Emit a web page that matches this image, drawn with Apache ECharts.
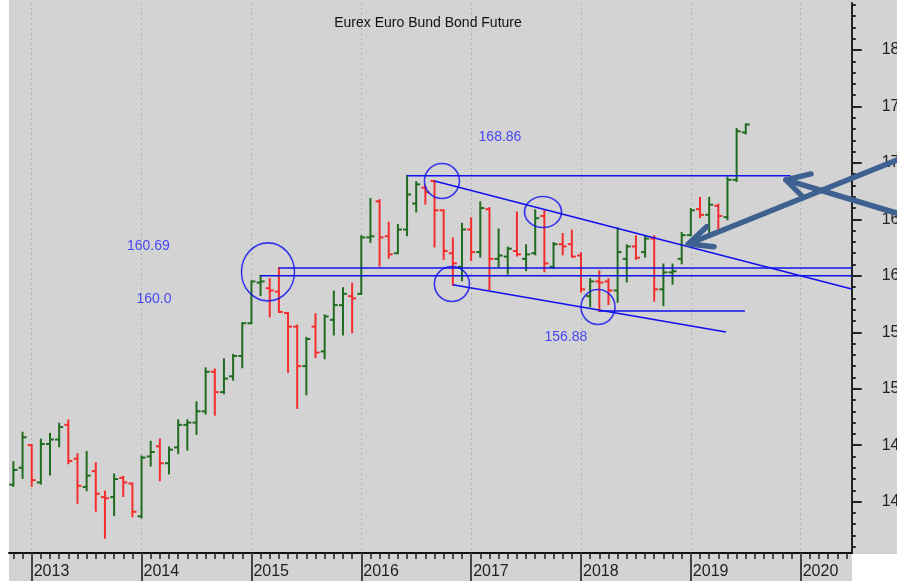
<!DOCTYPE html>
<html>
<head>
<meta charset="utf-8">
<script src="https://cdn.jsdelivr.net/npm/echarts@6/dist/echarts.min.js"></script>
<style>
  html, body { margin: 0; padding: 0; background: #fff; }
  #chart { width: 897px; height: 581px; }
</style>
</head>
<body>
<div id="chart"></div>
<script>
  // monthly bars, Nov 2012 .. Jul 2019
  var months = [
    '2012-11', '2012-12',
    '2013-01', '2013-02', '2013-03', '2013-04', '2013-05', '2013-06', '2013-07', '2013-08', '2013-09', '2013-10', '2013-11', '2013-12',
    '2014-01', '2014-02', '2014-03', '2014-04', '2014-05', '2014-06', '2014-07', '2014-08', '2014-09', '2014-10', '2014-11', '2014-12',
    '2015-01', '2015-02', '2015-03', '2015-04', '2015-05', '2015-06', '2015-07', '2015-08', '2015-09', '2015-10', '2015-11', '2015-12',
    '2016-01', '2016-02', '2016-03', '2016-04', '2016-05', '2016-06', '2016-07', '2016-08', '2016-09', '2016-10', '2016-11', '2016-12',
    '2017-01', '2017-02', '2017-03', '2017-04', '2017-05', '2017-06', '2017-07', '2017-08', '2017-09', '2017-10', '2017-11', '2017-12',
    '2018-01', '2018-02', '2018-03', '2018-04', '2018-05', '2018-06', '2018-07', '2018-08', '2018-09', '2018-10', '2018-11', '2018-12',
    '2019-01', '2019-02', '2019-03', '2019-04', '2019-05', '2019-06', '2019-07'
  ];
  var opens = [
    141.5, 143.0,
    145.0, 141.7, 145.1, 145.5, 146.8, 143.8, 141.3, 142.7, 140.4, 140.4, 142.1, 141.6,
    138.7, 144.0, 144.9, 143.4, 144.8, 146.8, 147.0, 148.0, 151.5, 149.7, 151.1, 152.9,
    155.8, 159.4, 158.9, 158.6, 156.7, 155.5, 152.0, 155.5, 153.3, 156.1, 157.4, 158.2,
    158.4, 163.4, 166.6, 163.5, 162.0, 164.1, 166.4, 167.8, 168.4, 165.8, 162.0, 160.8,
    164.1, 162.1, 165.9, 161.5, 161.7, 162.2, 161.5, 162.0, 165.3, 160.8, 162.8, 162.8,
    161.8, 158.2, 159.5, 159.5, 158.7, 161.5, 162.6, 162.1, 163.3, 158.8, 160.3, 161.5,
    163.6, 165.9, 165.4, 166.2, 165.2, 168.5, 172.7
  ];
  var highs = [
    143.5, 146.1,
    145.0, 145.5, 146.0, 146.9, 147.2, 144.2, 144.4, 143.4, 140.9, 142.4, 142.2, 141.6,
    144.0, 145.3, 145.5, 144.8, 147.2, 147.2, 148.8, 151.8, 151.7, 152.6, 153.0, 155.8,
    159.5, 160.0, 159.7, 160.69, 156.7, 155.6, 154.5, 156.6, 156.5, 158.6, 158.9, 159.3,
    163.5, 166.8, 166.7, 164.7, 164.5, 168.86, 168.3, 167.9, 168.4, 165.8, 163.3, 164.6,
    165.1, 166.5, 166.0, 164.1, 162.5, 165.6, 162.7, 165.8, 165.8, 162.9, 163.7, 164.0,
    162.0, 159.7, 160.4, 159.7, 164.2, 162.7, 163.5, 163.5, 163.5, 161.0, 161.0, 163.8,
    165.9, 166.9, 166.9, 166.3, 168.7, 173.0, 173.4
  ];
  var lows = [
    141.4, 142.1,
    141.4, 141.6, 142.4, 144.9, 143.4, 139.9, 141.0, 139.2, 136.8, 138.8, 140.5, 138.7,
    138.6, 143.2, 141.9, 142.5, 144.3, 144.6, 146.0, 147.8, 147.7, 149.6, 150.8, 151.9,
    155.8, 158.3, 156.4, 156.8, 151.5, 148.3, 149.5, 152.8, 152.7, 154.8, 154.8, 155.0,
    158.4, 163.0, 160.9, 161.6, 162.0, 163.6, 165.7, 166.4, 162.6, 161.5, 159.2, 159.6,
    161.4, 161.7, 158.8, 160.8, 160.2, 161.8, 160.5, 161.9, 160.4, 160.7, 161.9, 161.7,
    158.6, 157.3, 156.88, 157.5, 157.7, 159.5, 161.5, 161.7, 157.8, 157.4, 159.3, 161.1,
    163.6, 165.2, 163.7, 164.2, 165.0, 168.4, 172.6
  ];
  var closes = [
    142.8, 145.7,
    141.9, 145.1, 145.5, 146.6, 143.6, 141.4, 142.3, 140.7, 140.3, 142.0, 141.7, 139.1,
    143.9, 144.4, 143.4, 144.6, 146.8, 147.0, 148.0, 151.5, 149.7, 150.9, 152.9, 155.8,
    159.5, 159.5, 158.7, 156.8, 155.5, 152.0, 154.4, 153.2, 156.4, 157.4, 158.4, 158.0,
    163.4, 163.5, 163.4, 161.9, 164.1, 167.2, 168.1, 167.4, 165.8, 162.2, 161.1, 164.1,
    162.1, 166.0, 161.5, 161.8, 162.4, 161.9, 161.9, 165.1, 161.1, 162.8, 162.6, 161.7,
    158.8, 159.5, 159.4, 158.7, 162.1, 162.6, 161.6, 163.3, 158.8, 160.3, 160.4, 163.6,
    165.8, 165.4, 166.3, 165.3, 168.5, 172.8, 173.4
  ];

  var yearLabels = ['2013', '2014', '2015', '2016', '2017', '2018', '2019', '2020'];
  var priceTicks = [140, 145, 150, 155, 160, 165, 170, 175, 180];

  // drawn levels (value, first month, last month; months counted from Jan 2013)
  var levelValues = [160.0, 160.69, 168.86, 156.88];
  var levelStart = [25, 27, 41, 62];
  var levelEnd = [89.57, 89.57, 82.9, 77.9];
  var trendUpper = [[44, 168.4], [89.57, 158.83]];
  var trendLower = [[46, 159.2], [75.84, 155.02]];
  var circleAt = [[25.81, 160.34], [44.81, 168.4], [45.9, 159.27], [55.85, 165.65], [61.86, 157.24]];
  var noteText = ['160.69', '160.0', '168.86', '156.88'];
  var noteAt = [[12.74, 162.61], [13.36, 157.95], [51.15, 172.3], [58.34, 154.54]];
  var arrowShafts = [[[71.72, 162.82], [94.52, 170.26]], [[82.39, 168.49], [94.52, 165.54]]];
  var arrowHeads = [[[73.73, 164.35], [71.72, 162.82], [74.53, 162.58]], [[85.12, 169.02], [82.39, 168.49], [84.28, 166.95]]];

  var GREEN = '#1f6b1f';
  var RED = '#f42c2c';
  var BLUE = '#1010f0';
  var ARROW = '#3e6191';
  var FONT = "'Liberation Sans', Arial, sans-serif";

  function monthIndex(s) {
    var p = s.split('-');
    return (parseInt(p[0], 10) - 2013) * 12 + parseInt(p[1], 10) - 1;
  }

  var xMin = -2.48, xMax = 89.57;
  var yMin = 135.45, yMax = 184.16;

  var monthTicks = [];
  for (var m = Math.ceil(xMin); m <= xMax; m++) monthTicks.push(m);
  var yearTicks = yearLabels.map(function (y) { return (parseInt(y, 10) - 2013) * 12; });
  var unitTicks = [];
  for (var v = Math.ceil(yMin); v <= yMax; v++) unitTicks.push(v);

  var bars = months.map(function (mo, i) {
    return [monthIndex(mo), opens[i], highs[i], lows[i], closes[i]];
  });

  var series = [];
  series.push({
    type: 'custom',
    name: 'bund',
    data: bars,
    encode: { x: 0, y: [1, 2, 3, 4] },
    renderItem: function (params, api) {
      var x = api.value(0);
      var o = api.value(1), h = api.value(2), l = api.value(3), c = api.value(4);
      var pH = api.coord([x, h]), pL = api.coord([x, l]);
      var pO = api.coord([x, o]), pC = api.coord([x, c]);
      var col = c >= o ? GREEN : RED;
      var st = { stroke: col, lineWidth: 2 };
      return {
        type: 'group',
        children: [
          { type: 'line', shape: { x1: pH[0], y1: pH[1] - 1, x2: pL[0], y2: pL[1] + 1 }, style: st },
          { type: 'line', shape: { x1: pO[0] - 4, y1: pO[1], x2: pO[0], y2: pO[1] }, style: st },
          { type: 'line', shape: { x1: pC[0], y1: pC[1], x2: pC[0] + 4, y2: pC[1] }, style: st }
        ]
      };
    },
    z: 3
  });

  levelValues.forEach(function (lv, i) {
    series.push({
      type: 'line', data: [[levelStart[i], lv], [levelEnd[i], lv]],
      showSymbol: false, silent: true, z: 4,
      lineStyle: { color: BLUE, width: 1.6 }
    });
  });
  [trendUpper, trendLower].forEach(function (t) {
    series.push({
      type: 'line', data: t, showSymbol: false, silent: true, z: 4,
      lineStyle: { color: BLUE, width: 1.6 }
    });
  });

  var circleSize = [[53, 58], [35, 35], [35, 35], [37, 31], [34, 35]];
  series.push({
    type: 'scatter',
    data: circleAt.map(function (p, i) { return { value: p, symbolSize: circleSize[i] }; }),
    symbol: 'circle', silent: true, z: 5,
    itemStyle: { color: 'rgba(0,0,0,0)', borderColor: BLUE, borderWidth: 1.6 }
  });

  series.push({
    type: 'scatter',
    data: noteAt.map(function (p, i) { return { value: p, name: noteText[i] }; }),
    symbolSize: 0, silent: true, z: 5,
    label: {
      show: true, position: 'inside', formatter: '{b}',
      color: '#2424ff', fontSize: 14, fontFamily: FONT
    }
  });

  var baseGraphic = [
    { type: 'rect', shape: { x: 0, y: 0, width: 9, height: 581 }, style: { fill: '#fff' }, z: -10 },
    { type: 'rect', shape: { x: 852, y: 554, width: 45, height: 27 }, style: { fill: '#fff' }, z: -10 }
  ];

  var myChart = echarts.init(document.getElementById('chart'));
  myChart.setOption({
    animation: false,
    backgroundColor: '#d3d3d3',
    title: {
      text: 'Eurex Euro Bund Bond Future',
      left: 428, top: 16, textAlign: 'center', padding: 0,
      textStyle: { fontSize: 14, fontWeight: 'normal', color: '#111', fontFamily: FONT }
    },
    graphic: baseGraphic,
    grid: { left: 9, right: 45.3, top: 3, bottom: 28, containLabel: false, outerBoundsMode: 'none' },
    xAxis: [{
      type: 'value', min: xMin, max: xMax, position: 'bottom',
      axisLine: { show: true, onZero: false, lineStyle: { color: '#111', width: 2 } },
      axisTick: { show: true, customValues: monthTicks, length: 6, lineStyle: { color: '#222', width: 1.5 } },
      axisLabel: { show: false },
      splitLine: { show: false }
    }, {
      type: 'value', min: xMin, max: xMax, position: 'bottom',
      axisLine: { show: false, onZero: false },
      axisTick: { show: true, customValues: yearTicks, length: 28, lineStyle: { color: '#444', width: 2 } },
      axisLabel: {
        show: true, customValues: yearTicks, margin: 11, align: 'left', padding: [0, 0, 0, 2],
        fontSize: 16, color: '#222', fontFamily: FONT,
        formatter: function (val) { return yearLabels[Math.round(val / 12)]; }
      },
      splitLine: { show: true, lineStyle: { color: '#b4b4b4', width: 1, type: [2, 3] } }
    }],
    yAxis: [{
      type: 'value', min: yMin, max: yMax, position: 'right',
      axisLine: { show: true, onZero: false, lineStyle: { color: '#222', width: 2 } },
      axisTick: { show: true, customValues: unitTicks, length: 4, lineStyle: { color: '#222', width: 2 } },
      axisLabel: { show: false },
      splitLine: { show: false }
    }, {
      type: 'value', min: yMin, max: yMax, position: 'right',
      axisLine: { show: false, onZero: false },
      axisTick: { show: true, customValues: priceTicks, length: 10, lineStyle: { color: '#222', width: 2 } },
      axisLabel: {
        show: true, customValues: priceTicks, margin: 30, align: 'left',
        fontSize: 16, color: '#222', fontFamily: FONT
      },
      splitLine: { show: false }
    }],
    series: series
  });

  // the two arrows run out over the price scale, so draw them as graphics
  function toPx(p) {
    return myChart.convertToPixel({ xAxisIndex: 0, yAxisIndex: 0 }, p);
  }
  var arrowGraphic = arrowShafts.concat(arrowHeads).map(function (a) {
    return {
      type: 'polyline', z: 100,
      shape: { points: a.map(toPx) },
      style: { stroke: ARROW, lineWidth: 5.5, lineCap: 'round', lineJoin: 'round', fill: null }
    };
  });
  myChart.setOption({ graphic: baseGraphic.concat(arrowGraphic) });
</script>
</body>
</html>
